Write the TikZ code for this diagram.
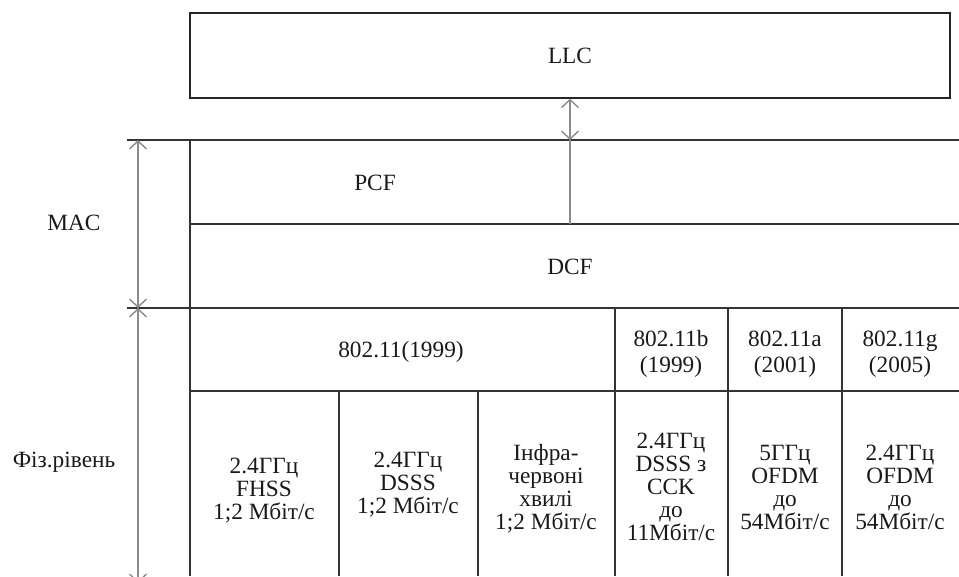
\documentclass[tikz,border=0pt]{standalone}
\usepackage{fontspec}
\setmainfont{Liberation Serif}
\usetikzlibrary{arrows.meta}
\begin{document}
\begin{tikzpicture}[x=1pt,y=-1pt,
  frame/.style={draw=black!85,line width=1.3pt},
  gridline/.style={draw=black!80,line width=1.3pt},
  dimline/.style={draw=black!45,line width=1.5pt},
  lbl/.style={font=\fontsize{23.3}{23}\selectfont,align=center,inner sep=0pt,text=black!90},
  toplbl/.style={lbl,font=\fontsize{23.3}{26}\selectfont},
  barb/.tip={Straight Barb[length=8pt,width=17pt,line width=1.4pt]}
]
\useasboundingbox (0,0) rectangle (959,576);
% LLC box
\node[frame,lbl,minimum width=760pt,minimum height=85pt] (llc) at (570,55.5) {LLC};
% grid lines
\draw[gridline] (127,140) -- (959,140);
\draw[gridline] (190,224) -- (959,224);
\draw[gridline] (127,308) -- (959,308);
\draw[gridline] (190,391) -- (959,391);
\draw[gridline] (190,140) -- (190,576);
\draw[gridline] (615,308) -- (615,576);
\draw[gridline] (728,308) -- (728,576);
\draw[gridline] (842,308) -- (842,576);
\draw[gridline] (339,391) -- (339,576);
\draw[gridline] (478,391) -- (478,576);
% coordinates for connectors
\coordinate (pcftop) at (570,140);
\coordinate (pcfbot) at (570,224);
\coordinate (mactop) at (138,140);
\coordinate (macbot) at (138,308);
\coordinate (phybot) at (138,583);
% arrows
\draw[dimline,barb-barb] (llc.south) -- (pcftop);
\draw[dimline] (pcftop) -- (pcfbot);
\draw[dimline,barb-barb] (mactop) -- (macbot);
\draw[dimline,barb-barb] (macbot) -- (phybot);
% labels
\node[lbl] (mac) at (74,223) {MAC};
\node[lbl] (phy) at (64,462) {Фіз.рівень};
\node[lbl] (pcf) at (375,183) {PCF};
\node[lbl] (dcf) at (570,267) {DCF};
\node[lbl] (s1999) at (401,352) {802.11(1999)};
\node[toplbl] (sb) at (671,354) {802.11b\\(1999)};
\node[toplbl] (sa) at (785,354) {802.11a\\(2001)};
\node[toplbl] (sg) at (900,354) {802.11g\\(2005)};
\node[lbl] (fhss) at (264,491) {2.4ГГц\\FHSS\\1;2 Мбіт/с};
\node[lbl] (dsss) at (408,485) {2.4ГГц\\DSSS\\1;2 Мбіт/с};
\node[lbl] (ir) at (546,489) {Інфра-\\червоні\\хвилі\\1;2 Мбіт/с};
\node[lbl] (cck) at (671,487) {2.4ГГц\\DSSS з\\CCK\\до\\11Мбіт/с};
\node[lbl] (ofa) at (785,487) {5ГГц\\OFDM\\до\\54Мбіт/с};
\node[lbl] (ofg) at (900,487) {2.4ГГц\\OFDM\\до\\54Мбіт/с};
\end{tikzpicture}
\end{document}
